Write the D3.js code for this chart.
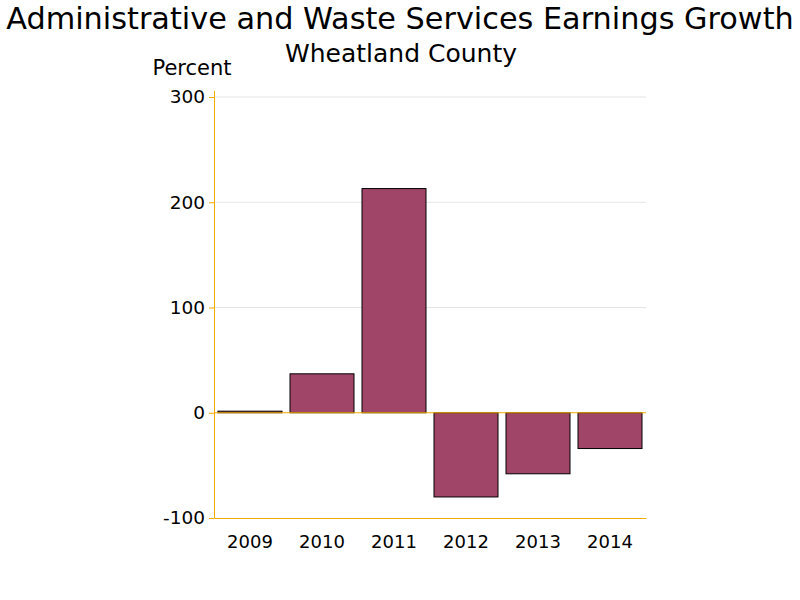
<!DOCTYPE html>
<html>
<head>
<meta charset="utf-8">
<script src="https://cdn.jsdelivr.net/npm/d3@7"></script>
<style>
  body { margin: 0; background: #fff; }
  text { font-family: "DejaVu Sans", sans-serif; fill: #000; }
</style>
</head>
<body>
<div id="chart"></div>
<script>
// chart data
const years = ["2009", "2010", "2011", "2012", "2013", "2014"];
const growth = [1.5, 37, 213, -80, -58, -34];
const yTicks = [-100, 0, 100, 200, 300];

const width = 800, height = 600;
const margin = {top: 97, right: 154, bottom: 82, left: 214};

let svg = d3.select("#chart").append("svg")
  .attr("width", width)
  .attr("height", height);

// titles
svg.append("text")
  .attr("x", 400).attr("y", 29)
  .attr("text-anchor", "middle")
  .style("font-size", "30.3px")
  .text("Administrative and Waste Services Earnings Growth");
svg.append("text")
  .attr("x", 401).attr("y", 62)
  .attr("text-anchor", "middle")
  .style("font-size", "25px")
  .text("Wheatland County");
svg.append("text")
  .attr("x", 192).attr("y", 75)
  .attr("text-anchor", "middle")
  .style("font-size", "21px")
  .text("Percent");

let x = d3.scaleBand()
  .domain(years)
  .range([margin.left, width - margin.right])
  .paddingInner(8 / 72)
  .paddingOuter(4 / 72);

let y = d3.scaleLinear()
  .domain([-100, 300])
  .range([height - margin.bottom, margin.top]);

// gridlines
svg.append("g")
  .selectAll("line")
  .data(yTicks.filter(d => d > 0))
  .enter().append("line")
  .attr("x1", margin.left).attr("x2", width - margin.right)
  .attr("y1", d => y(d)).attr("y2", d => y(d))
  .attr("stroke", "#e4e4e4")
  .attr("stroke-width", 1);

// bars
svg.append("g")
  .selectAll("rect")
  .data(years)
  .enter().append("rect")
  .attr("x", d => x(d))
  .attr("width", x.bandwidth())
  .attr("y", (d, i) => y(Math.max(0, growth[i])))
  .attr("height", (d, i) => Math.abs(y(growth[i]) - y(0)))
  .attr("fill", "#a04568")
  .attr("stroke", "#000")
  .attr("stroke-width", 1);

// zero reference line
svg.append("line")
  .attr("x1", margin.left).attr("x2", width - margin.right)
  .attr("y1", y(0)).attr("y2", y(0))
  .attr("stroke", "#f2a900")
  .attr("stroke-width", 1);

// y axis
let yAxis = svg.append("g")
  .attr("transform", "translate(" + margin.left + ",0)")
  .call(d3.axisLeft(y).tickValues(yTicks).tickSize(5).tickPadding(4)
    .tickFormat(d => String(d)));
yAxis.select(".domain").attr("stroke", "#f2a900").attr("d", "M0.5," + (margin.top - 6) + "V" + (height - margin.bottom + 0.5));
yAxis.selectAll(".tick line").attr("stroke", "#f2a900");
yAxis.selectAll(".tick text").style("font-size", "18.5px").attr("font-family", null);

// x axis
let xAxis = svg.append("g")
  .attr("transform", "translate(0," + (height - margin.bottom) + ")")
  .call(d3.axisBottom(x).tickSize(0).tickPadding(17));
xAxis.select(".domain").attr("stroke", "#f2a900");
xAxis.selectAll(".tick text").style("font-size", "18px").attr("font-family", null);
</script>
</body>
</html>
